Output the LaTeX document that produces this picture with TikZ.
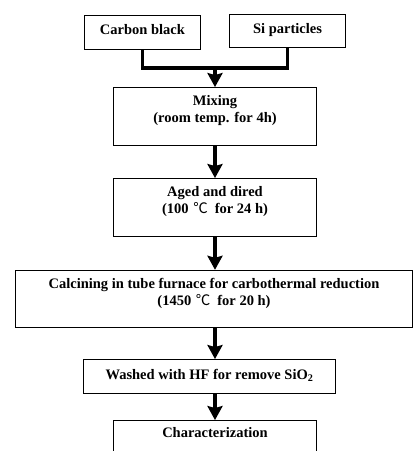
\documentclass[tikz,border=0pt]{standalone}
\usepackage{fontspec}
\setmainfont{Liberation Serif}
\newfontfamily\cjk{Noto Sans CJK SC}
\newcommand{\celsius}{\hspace{1pt}{\cjk\mdseries ℃}\hspace{7pt}}
\usepackage{tikz}
\usetikzlibrary{arrows.meta, positioning}

\begin{document}
\begin{tikzpicture}[node distance=91pt, every node/.style={font=\fontsize{14.5}{17}\selectfont\bfseries}]
\tikzstyle{single} = [rectangle, minimum width=116pt, text height=19pt, text depth=14.5pt, inner ysep=0pt, align=center, draw=black, line width=1.4pt]
\tikzstyle{double} = [rectangle, minimum width=202.5pt, text height=34.5pt, text depth=23pt, inner ysep=0pt, align=center, draw=black, line width=1.4pt]
\tikzstyle{line} = [line width=3.5pt, line join=miter]
\tikzstyle{arrow} = [line width=3.5pt, -{Stealth[length=14pt, width=15pt, inset=2pt]}]

\useasboundingbox (-142.5pt,32.5pt) rectangle (271.5pt,-418.5pt);

\node (carbon) [single] {Carbon black};
\node (si) [single, right of=carbon, xshift=54pt, yshift=1.5pt] {Si particles};
\node (mixing) [double, below of=carbon, xshift=72.5pt, yshift=7pt] {Mixing\\(room temp. for 4h)};
\node (aged) [double, below of=mixing] {Aged and dired\\(100 \celsius for 24 h)};
\node (calcining) [double, below of=aged, xshift=-1pt, yshift=-0.5pt, minimum width=396.5pt, text depth=22.5pt] {Calcining in tube furnace for carbothermal reduction\\(1450 \celsius for 20 h)};
\node (washed) [single, below of=calcining, xshift=-4.5pt, yshift=13.5pt, minimum width=251.5pt, text height=20pt, text depth=13.5pt] {Washed with HF for remove SiO\textsubscript{2}};
\node (char) [single, below of=washed, xshift=5.5pt, yshift=30pt, minimum width=202.5pt, text height=17pt, text depth=16.5pt] {Characterization};

\draw [line] (carbon.south) -- ++(0,-18pt) -| (si.south);
\path (mixing.north) ++(0,19pt) coordinate (merge);
\draw [arrow] (merge) -- (mixing.north);
\draw [arrow] (mixing) -- (aged);
\draw [arrow] (aged.south) -- (aged.south |- calcining.north);
\draw [arrow] (calcining.south -| mixing) -- (washed.north -| mixing);
\draw [arrow] (washed.south -| mixing) -- (char.north -| mixing);

\end{tikzpicture}
\end{document}
